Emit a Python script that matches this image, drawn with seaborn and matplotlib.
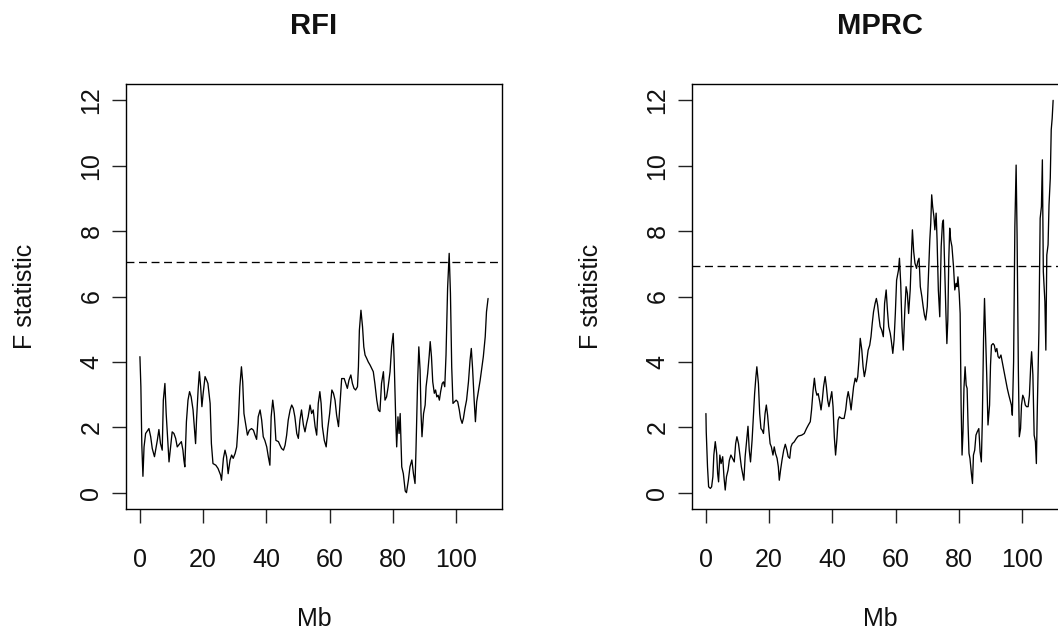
import numpy as np
import pandas as pd
import matplotlib
matplotlib.use("Agg")
import matplotlib.pyplot as plt
import seaborn as sns

# ---------------- data ----------------
rfi_mb = [0.0, 0.3, 0.6, 0.95, 1.3, 1.8, 2.85, 3.4, 3.9, 4.6, 5.5, 6.0, 6.5, 7.05, 7.4, 7.9, 8.3, 8.8, 9.2, 9.7,
          10.2, 10.75, 11.3, 11.8, 12.6, 13.1, 13.6, 13.9, 14.2, 14.7, 15.2, 15.7, 16.2, 16.8, 17.3, 17.6, 17.9,
          18.4, 18.8, 19.2, 19.6, 20.0, 20.6, 21.1, 21.5, 22.2, 22.6, 23.1, 24.0, 24.7, 25.5, 25.8, 26.4, 26.9,
          27.4, 27.9, 28.5, 29.0, 29.5, 30.1, 30.6, 31.1, 31.6, 32.1, 32.5, 32.9, 33.4, 34.0, 34.6, 35.3, 35.9,
          36.4, 36.9, 37.4, 38.0, 38.5, 39.0, 39.5, 40.1, 40.6, 41.1, 41.5, 42.0, 42.5, 43.0, 43.8, 44.3, 44.8,
          45.4, 45.9, 46.4, 46.9, 47.5, 48.0, 48.5, 49.0, 49.6, 50.1, 50.6, 51.1, 51.7, 52.2, 52.7, 53.2, 53.8,
          54.3, 54.8, 55.4, 55.9, 56.4, 56.9, 57.3, 57.7, 58.3, 58.9, 59.4, 60.0, 60.7, 61.2, 61.7, 62.2, 62.8,
          63.3, 63.8, 64.6, 65.1, 65.6, 66.1, 66.7, 67.2, 67.7, 68.2, 68.8, 69.1, 69.4, 69.9, 70.4, 70.8, 71.2,
          71.7, 72.2, 72.8, 73.3, 73.8, 74.3, 74.9, 75.4, 75.9, 76.4, 77.0, 77.5, 78.0, 78.5, 79.1, 79.6, 80.1,
          80.4, 80.9, 81.2, 81.6, 81.96, 82.3, 82.8, 83.3, 83.9, 84.3, 84.9, 85.4, 86.0, 86.5, 87.0, 87.3, 87.8,
          88.2, 88.6, 88.9, 89.2, 89.7, 90.2, 90.5, 91.0, 91.5, 91.8, 92.2, 92.6, 93.1, 93.5, 93.9, 94.3, 94.7,
          95.1, 95.6, 96.0, 96.4, 96.8, 97.3, 97.8, 98.2, 98.6, 99.0, 99.5, 100.0, 100.5, 101.0, 101.4, 101.9,
          102.3, 102.8, 103.3, 103.9, 104.4, 104.8, 105.2, 105.7, 106.1, 106.5, 107.1, 107.6, 108.1, 108.6,
          109.2, 109.6, 110.1]
rfi_f = [4.16, 3.24, 1.45, 0.5, 1.4, 1.81, 1.96, 1.71, 1.35, 1.1, 1.6, 1.93, 1.5, 1.3, 2.83, 3.34, 2.42, 1.6, 0.94,
         1.4, 1.86, 1.81, 1.66, 1.4, 1.5, 1.56, 1.3, 1.0, 0.79, 2.17, 2.83, 3.09, 2.93, 2.53, 1.86, 1.5, 2.22,
         3.14, 3.7, 3.24, 2.63, 3.04, 3.55, 3.44, 3.34, 2.73, 1.5, 0.89, 0.84, 0.74, 0.54, 0.38, 1.05, 1.3, 1.1,
         0.58, 1.0, 1.15, 1.05, 1.2, 1.4, 2.12, 3.24, 3.85, 3.39, 2.42, 2.12, 1.76, 1.91, 1.96, 1.91, 1.76,
         1.63, 2.32, 2.53, 2.22, 1.71, 1.6, 1.4, 1.1, 0.84, 2.32, 2.83, 2.42, 1.6, 1.56, 1.45, 1.35, 1.3, 1.45,
         1.76, 2.22, 2.53, 2.68, 2.58, 2.32, 1.81, 1.66, 2.22, 2.53, 2.07, 1.86, 2.12, 2.32, 2.68, 2.42, 2.53,
         2.02, 1.76, 2.73, 3.09, 2.73, 2.02, 1.6, 1.4, 1.96, 2.42, 3.14, 3.04, 2.83, 2.37, 2.02, 2.73, 3.49,
         3.49, 3.34, 3.19, 3.44, 3.6, 3.34, 3.19, 3.14, 3.24, 3.85, 4.97, 5.58, 5.07, 4.46, 4.21, 4.11, 4.0,
         3.9, 3.8, 3.7, 3.34, 2.83, 2.53, 2.48, 3.34, 3.7, 2.83, 2.93, 3.24, 3.7, 4.46, 4.87, 4.05, 2.22, 1.4,
         2.32, 1.81, 2.42, 0.79, 0.58, 0.05, 0.0, 0.38, 0.79, 1.0, 0.58, 0.28, 1.3, 3.34, 4.46, 3.75, 2.42,
         1.71, 2.42, 2.68, 3.24, 3.65, 4.21, 4.62, 4.16, 3.39, 3.04, 3.14, 2.93, 2.98, 2.83, 3.09, 3.34, 3.39,
         3.24, 4.21, 6.25, 7.32, 6.1, 3.85, 2.73, 2.78, 2.83, 2.78, 2.53, 2.27, 2.12, 2.27, 2.58, 2.83, 3.39,
         4.05, 4.41, 3.8, 2.83, 2.17, 2.78, 3.14, 3.44, 3.8, 4.16, 4.77, 5.53, 5.94]

mprc_mb = [0.0, 0.1, 0.5, 0.85, 1.4, 1.8, 2.2, 2.5, 2.95, 3.4, 3.7, 4.0, 4.4, 4.8, 5.3, 5.7, 6.1, 6.5, 7.0, 7.4,
           7.9, 8.4, 8.96, 9.4, 9.8, 10.3, 10.8, 11.2, 11.6, 12.0, 12.4, 12.9, 13.3, 13.7, 14.1, 14.6, 15.0, 15.4,
           15.8, 16.1, 16.6, 17.0, 17.4, 17.8, 18.2, 18.7, 19.1, 19.5, 19.9, 20.3, 20.7, 21.2, 21.6, 22.0, 22.5,
           22.9, 23.2, 23.6, 24.05, 24.6, 25.1, 25.6, 26.0, 26.5, 26.9, 27.3, 27.9, 28.6, 29.2, 30.3, 31.1, 31.8,
           32.4, 33.0, 33.4, 33.9, 34.3, 34.7, 35.1, 35.5, 36.0, 36.4, 36.8, 37.2, 37.7, 38.1, 38.5, 38.9, 39.3,
           39.8, 40.2, 40.6, 41.0, 41.4, 41.8, 42.2, 42.9, 43.7, 44.2, 44.6, 45.0, 45.5, 45.9, 46.3, 46.7, 47.2,
           47.6, 48.0, 48.4, 48.8, 49.3, 49.7, 50.1, 50.5, 50.9, 51.3, 51.8, 52.2, 52.6, 53.0, 53.5, 53.9, 54.3,
           54.7, 55.1, 55.6, 56.1, 56.5, 57.0, 57.4, 57.8, 58.3, 58.6, 59.1, 59.5, 59.9, 60.3, 60.9, 61.2, 61.6,
           62.0, 62.4, 62.9, 63.3, 63.7, 64.1, 64.6, 65.0, 65.3, 65.7, 66.1, 66.6, 67.0, 67.4, 67.8, 68.3, 68.7,
           69.1, 69.5, 70.0, 70.4, 70.8, 71.1, 71.4, 71.7, 72.1, 72.4, 72.8, 73.1, 73.5, 73.95, 74.4, 74.8, 75.1,
           75.4, 75.9, 76.2, 76.5, 76.8, 77.1, 77.4, 77.8, 78.3, 78.7, 79.1, 79.4, 79.7, 80.1, 80.4, 80.7, 81.0,
           81.3, 81.6, 81.96, 82.3, 82.6, 82.9, 83.2, 83.5, 83.95, 84.3, 84.6, 85.0, 85.4, 85.8, 86.3, 86.7, 87.1,
           87.4, 87.8, 88.1, 88.4, 88.8, 89.2, 89.7, 90.0, 90.3, 90.8, 91.2, 91.6, 92.0, 92.4, 92.8, 93.3, 93.7,
           94.1, 94.5, 94.9, 95.3, 95.8, 96.2, 96.6, 96.9, 97.3, 97.7, 98.1, 98.4, 98.8, 99.1, 99.5, 99.8, 100.2,
           100.6, 101.0, 101.4, 101.9, 102.3, 102.7, 103.0, 103.4, 103.8, 104.2, 104.5, 104.8, 105.3, 105.7,
           106.1, 106.4, 106.7, 107.2, 107.5, 107.8, 108.2, 108.5, 108.9, 109.2, 109.5, 109.8]
mprc_f = [2.42, 1.86, 0.79, 0.18, 0.13, 0.18, 0.49, 1.15, 1.56, 1.2, 0.59, 0.33, 1.15, 0.89, 1.1, 0.49, 0.08, 0.49,
          0.69, 0.99, 1.15, 1.05, 0.94, 1.5, 1.71, 1.5, 1.1, 0.79, 0.59, 0.38, 1.1, 1.61, 2.03, 1.3, 0.94, 1.61,
          2.32, 3.03, 3.54, 3.85, 3.34, 2.42, 1.96, 1.91, 1.81, 2.42, 2.68, 2.37, 1.91, 1.5, 1.4, 1.15, 1.4, 1.2,
          1.05, 0.79, 0.38, 0.69, 0.99, 1.3, 1.48, 1.3, 1.1, 1.05, 1.4, 1.5, 1.55, 1.66, 1.73, 1.76, 1.81, 1.96,
          2.07, 2.17, 2.53, 3.14, 3.5, 3.14, 2.98, 3.03, 2.78, 2.53, 2.83, 3.24, 3.55, 3.24, 2.83, 2.63, 2.83,
          3.09, 2.63, 1.71, 1.15, 1.61, 2.22, 2.32, 2.27, 2.27, 2.53, 2.88, 3.09, 2.83, 2.53, 2.88, 3.24, 3.5,
          3.39, 3.55, 4.05, 4.72, 4.36, 3.85, 3.55, 3.75, 4.05, 4.36, 4.51, 4.77, 5.18, 5.53, 5.79, 5.94, 5.74,
          5.38, 5.08, 4.97, 4.77, 5.79, 6.2, 5.58, 5.08, 4.87, 4.67, 4.26, 4.67, 5.48, 6.5, 6.81, 7.17, 6.4,
          5.08, 4.36, 5.58, 6.3, 6.1, 5.48, 6.2, 7.32, 8.04, 7.38, 7.02, 6.86, 7.07, 7.17, 6.3, 5.99, 5.69, 5.43,
          5.28, 5.69, 6.71, 7.73, 8.24, 9.11, 8.75, 8.44, 8.04, 8.55, 7.73, 6.2, 5.38, 7.53, 8.24, 8.34, 7.22,
          5.48, 4.56, 5.28, 7.12, 8.09, 7.73, 7.53, 6.91, 6.2, 6.4, 6.3, 6.6, 6.09, 5.48, 2.68, 1.15, 1.86, 3.19,
          3.85, 3.29, 3.19, 2.07, 1.2, 1.05, 0.59, 0.28, 1.15, 1.3, 1.76, 1.86, 1.96, 1.25, 0.94, 2.17, 4.72,
          5.94, 4.92, 3.6, 2.07, 2.68, 3.9, 4.51, 4.56, 4.51, 4.31, 4.41, 4.16, 4.11, 4.21, 4.0, 3.8, 3.6, 3.39,
          3.19, 2.98, 2.83, 2.68, 2.37, 4.0, 8.14, 10.02, 7.88, 3.8, 1.71, 1.96, 2.68, 2.98, 2.88, 2.68, 2.63,
          2.63, 2.98, 3.85, 4.31, 3.6, 1.76, 1.56, 0.89, 2.58, 4.92, 8.39, 8.75, 10.18, 6.76, 5.84, 4.36, 7.27,
          7.58, 8.8, 9.62, 11.1, 11.45, 12.0]

titles = ["RFI", "MPRC"]
thresholds = [7.05, 6.93]
x_ticks = [0, 20, 40, 60, 80, 100]
y_ticks = [0, 2, 4, 6, 8, 10, 12]
x_label = "Mb"
y_label = "F statistic"

# ---------------- style ----------------
sns.set_theme(style="white")
plt.rcParams["font.family"] = ["Liberation Sans", "DejaVu Sans"]

W, H = 1058, 637
fig = plt.figure(figsize=(W / 100, H / 100), dpi=100)

box_w = 376.6
box_top, box_bot = 84, 509
lefts = [125.7, 691.7]

panels = [(rfi_mb, rfi_f), (mprc_mb, mprc_f)]
for i, (xs, ys) in enumerate(panels):
    ax = fig.add_axes([lefts[i] / W, (H - box_bot) / H, box_w / W, (box_bot - box_top) / H])
    df = pd.DataFrame({"Mb": xs, "F": ys})
    sns.lineplot(data=df, x="Mb", y="F", ax=ax, color="black", lw=0.95,
                 estimator=None, sort=False)
    ax.axhline(thresholds[i], color="black", lw=0.95, ls=(0, (6, 3.5)))
    ax.set_xlim(-4.5, 114.6)
    ax.set_ylim(-0.5, 12.5)
    ax.set_xticks(x_ticks)
    ax.set_yticks(y_ticks)
    ax.set_xticklabels([str(v) for v in x_ticks])
    ax.set_yticklabels([str(v) for v in y_ticks])
    for s in ax.spines.values():
        s.set_visible(True)
        s.set_color("black")
        s.set_linewidth(1.0)
    ax.tick_params(axis="both", which="major", direction="out", length=10, width=1,
                   color="#222222", labelsize=18, labelcolor="#111111",
                   bottom=True, left=True)
    ax.tick_params(axis="x", pad=18)
    ax.tick_params(axis="y", pad=6)
    for lbl in ax.get_yticklabels():
        lbl.set_rotation(90)
        lbl.set_va("center")
    ax.set_xlabel(x_label, fontsize=18, color="#111111")
    ax.set_ylabel(y_label, fontsize=18, color="#111111")
    ax.xaxis.set_label_coords(0.5, (box_bot - 619) / (box_bot - box_top))
    ax.yaxis.set_label_coords((25 - 125.7) / box_w, 0.5)
    ax.xaxis.label.set_va("center")
    ax.yaxis.label.set_va("center")
    ax.set_title(titles[i], fontsize=21, fontweight="bold", pad=36, color="#111111")
    ax.grid(False)
    ax.set_facecolor("white")

fig.savefig("out.png", dpi=100, facecolor="white")
